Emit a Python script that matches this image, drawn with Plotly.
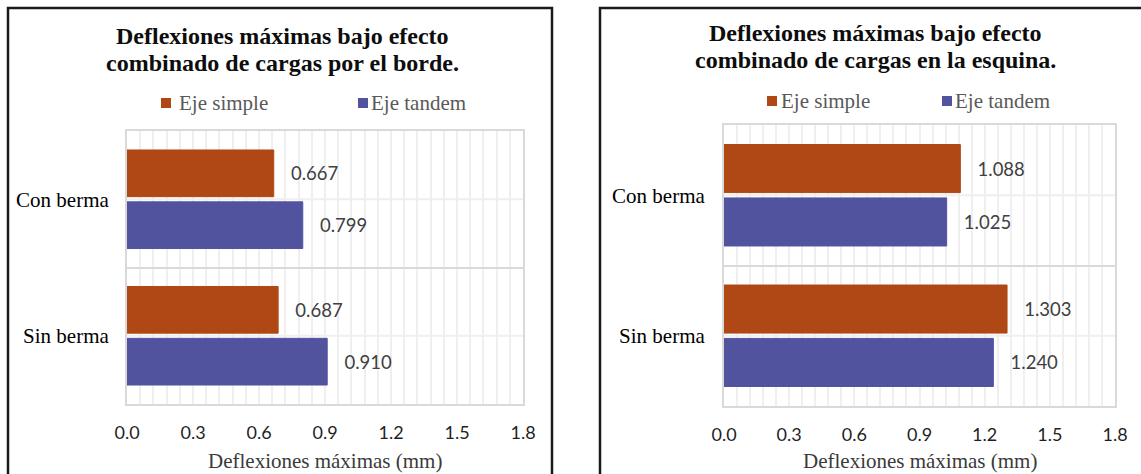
import plotly.graph_objects as go

W, H = 1141, 474

categories = ["Con berma", "Sin berma"]
series_names = ["Eje simple", "Eje tandem"]
series_colors = ["#AF4814", "#52539F"]

# Deflexiones máximas (mm), carga en el borde
borde_simple = [0.667, 0.687]
borde_tandem = [0.799, 0.910]

# Deflexiones máximas (mm), carga en la esquina
esquina_simple = [1.088, 1.303]
esquina_tandem = [1.025, 1.240]

x_ticks = [0.0, 0.3, 0.6, 0.9, 1.2, 1.5, 1.8]
x_tick_text = [f"{v:.1f}" for v in x_ticks]

titles = [
    ["Deflexiones máximas bajo efecto", "combinado de cargas por el borde."],
    ["Deflexiones máximas bajo efecto", "combinado de cargas en la esquina."],
]
x_title = "Deflexiones máximas (mm)"

SERIF = "Liberation Serif, Times New Roman, serif"
SANS = "Lato, Carlito, Calibri, sans-serif"
NBSP = "\u00a0"


def px(x):
    return x / W


def py(y):
    return 1 - y / H


fig = go.Figure()

panels = [
    dict(xa="x", ya="y", simple=borde_simple, tandem=borde_tandem),
    dict(xa="x2", ya="y2", simple=esquina_simple, tandem=esquina_tandem),
]

for p in panels:
    for name, color, vals in zip(series_names, series_colors, [p["simple"], p["tandem"]]):
        fig.add_trace(go.Bar(
            y=categories, x=vals, orientation="h", name=name,
            xaxis=p["xa"], yaxis=p["ya"],
            marker=dict(color=color, line=dict(color=color, width=1)),
            text=[f"{v:.3f}" for v in vals],
            texttemplate=NBSP * 3 + "%{text}",
            textposition="outside", constraintext="none", cliponaxis=False,
            textfont=dict(family=SANS, size=18.5, color="#404040"),
            showlegend=False, hoverinfo="skip",
        ))

# plot-area rectangles in pixels: (left, top, right, bottom)
areas = [(127, 131, 523, 404), (724, 125, 1115, 406)]
label_standoff = [12, 13]

layout_axes = {}
for i, (l, t, r, b) in enumerate(areas):
    sx = "" if i == 0 else "2"
    layout_axes[f"xaxis{sx}"] = dict(
        domain=[px(l), px(r)], anchor=f"y{sx}", range=[0, 1.8], automargin=False,
        tickmode="array", tickvals=x_ticks, ticktext=x_tick_text,
        tickfont=dict(family=SANS, size=18, color="#1f1f1f"),
        showgrid=True, gridcolor="#EFEFEF", gridwidth=1.5,
        minor=dict(dtick=0.06, showgrid=True, gridcolor="#EFEFEF", gridwidth=1.5),
        showline=True, linecolor="#D9D9D9", linewidth=2, mirror=True,
        zeroline=False, ticks="", ticklabelstandoff=11,
    )
    layout_axes[f"yaxis{sx}"] = dict(
        domain=[py(b), py(t)], anchor=f"x{sx}", automargin=False,
        type="category", categoryorder="array", categoryarray=categories,
        range=[1.5, -0.5],
        tickson="boundaries", showgrid=True, gridcolor="#D9D9D9", gridwidth=2,
        showline=True, linecolor="#D9D9D9", linewidth=2, mirror=True,
        ticks="", ticklabelstandoff=label_standoff[i],
        tickfont=dict(family=SERIF, size=21, color="#000000"),
    )

fig.update_layout(
    width=W, height=H, margin=dict(l=0, r=0, t=0, b=0, autoexpand=False),
    paper_bgcolor="white", plot_bgcolor="white",
    barmode="group", bargap=0.24, bargroupgap=0.1,
    showlegend=False,
    **layout_axes,
)

shapes = []
# light lines at the centre of each category
for i in range(2):
    sx = "" if i == 0 else "2"
    for k in range(len(categories)):
        shapes.append(dict(type="line", xref=f"x{sx} domain", yref=f"y{sx}",
                           x0=0, x1=1, y0=k, y1=k, layer="below",
                           line=dict(color="#EFEFEF", width=2)))

# chart frames
frames = [(8, 8, 552, 490), (600, 8, 1160, 490)]
for (l, t, r, b) in frames:
    shapes.append(dict(type="rect", xref="paper", yref="paper",
                       x0=px(l), x1=px(r), y0=py(b), y1=py(t),
                       line=dict(color="#1A1A1A", width=2.5)))

annotations = []
title_pos = [(282, 36, 63), (876, 33, 60)]
for (cx, y1, y2), lines in zip(title_pos, titles):
    for yy, txt in zip((y1, y2), lines):
        annotations.append(dict(text=f"<b>{txt}</b>", x=px(cx), y=py(yy),
                                xref="paper", yref="paper", showarrow=False,
                                xanchor="center", yanchor="middle",
                                font=dict(family=SERIF, size=24, color="#0D0D0D")))

# x-axis titles, centred under each plot area
for i in range(2):
    sx = "" if i == 0 else "2"
    annotations.append(dict(text=x_title, x=0.5, y=py(461),
                            xref=f"x{sx} domain", yref="paper", showarrow=False,
                            xanchor="center", yanchor="middle",
                            font=dict(family=SERIF, size=21, color="#3A3A3A")))

# legends: square marker + label for each series
legend_pos = [[(166, 180), (363, 372)], [(772, 782), (947, 956)]]
legend_y = [103, 101]
for entries, ly in zip(legend_pos, legend_y):
    for (sq_cx, tx), name, color in zip(entries, series_names, series_colors):
        shapes.append(dict(type="rect", xref="paper", yref="paper",
                           x0=px(sq_cx - 5), x1=px(sq_cx + 5),
                           y0=py(ly + 5), y1=py(ly - 5),
                           fillcolor=color, line=dict(width=0)))
        annotations.append(dict(text=name, x=px(tx - 3), y=py(ly),
                                xref="paper", yref="paper", showarrow=False,
                                xanchor="left", yanchor="middle",
                                font=dict(family=SERIF, size=21, color="#595959")))

fig.update_layout(shapes=shapes, annotations=annotations)

fig.write_html("out.html")
